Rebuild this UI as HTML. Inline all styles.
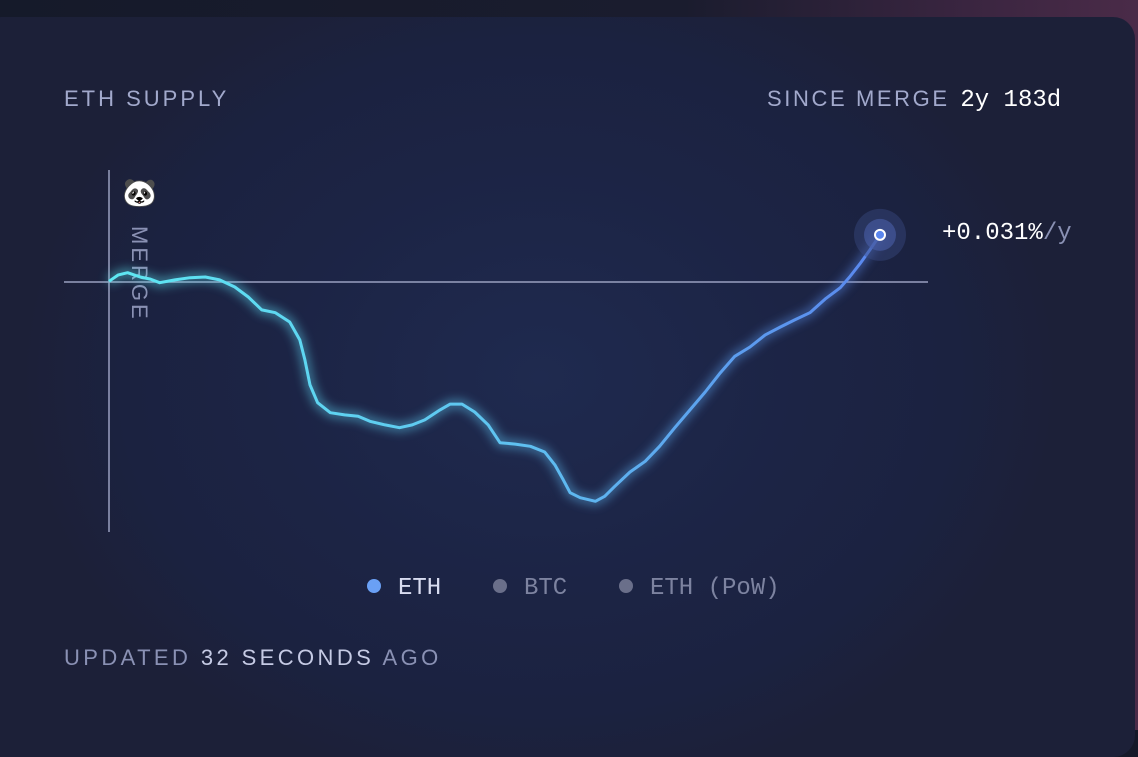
<!DOCTYPE html>
<html><head><meta charset="utf-8"><style>
html,body{margin:0;padding:0;width:1138px;height:730px;overflow:hidden;background:#151929;}
#bg{position:absolute;left:0;top:0;width:1138px;height:730px;background:linear-gradient(90deg,#151a2a 0%,#1a1c2e 60%,#3a2540 85%,#4a2b48 100%);}
#card{position:absolute;left:-20px;top:17px;width:1155px;height:740px;border-radius:22px;background:radial-gradient(ellipse 520px 420px at 560px 360px,#1f2a4f 0%,#1c2445 50%,#1b2240 80%,#1c2038 100%);}
.t{position:absolute;font-family:"Liberation Sans",sans-serif;font-size:22px;letter-spacing:3px;color:#a2a9cc;white-space:nowrap;}
.m{font-family:"Liberation Mono",monospace;letter-spacing:0;font-size:24px;}
svg{position:absolute;left:0;top:0;}
</style></head><body>
<div id="bg"></div>
<div id="card"></div>
<div class="t" style="left:64px;top:86px">ETH SUPPLY</div>
<div class="t" style="left:767px;top:86px;letter-spacing:2.6px">SINCE MERGE <span class="m" style="color:#fff;margin-left:2px">2y 183d</span></div>
<div class="t m" style="left:942px;top:220px;color:#fff;">+0.031%<span style="color:#8a91b4">/y</span></div>
<div class="t" style="left:122px;top:176px;font-size:28px;letter-spacing:0">🐼</div>
<div class="t" style="left:126px;top:226px;writing-mode:vertical-rl;color:#8a91b4;letter-spacing:3px">MERGE</div>
<svg id="chart" width="1138" height="730">
<defs>
<linearGradient id="lg" x1="109" y1="0" x2="880" y2="0" gradientUnits="userSpaceOnUse">
<stop offset="0" stop-color="#5ee8f2"/><stop offset="0.5" stop-color="#5fc4f0"/><stop offset="1" stop-color="#5a86ee"/></linearGradient>
<filter id="glow" x="-10%" y="-30%" width="120%" height="160%"><feGaussianBlur stdDeviation="5"/></filter>
</defs>
<line x1="64" y1="282" x2="928" y2="282" stroke="#9aa0c0" stroke-width="1.5"/>
<line x1="109" y1="170" x2="109" y2="532" stroke="#9aa0c0" stroke-width="1.5"/>
<g id="series"></g>
</svg>
<svg width="1138" height="730">
<circle cx="374" cy="586" r="7" fill="#6aa0f5"/>
<text x="398" y="594" font-family="Liberation Mono,monospace" font-size="24" fill="#d8dcf0">ETH</text>
<circle cx="500" cy="586" r="7" fill="#6a6f8a"/>
<text x="524" y="594" font-family="Liberation Mono,monospace" font-size="24" fill="#7d83a0">BTC</text>
<circle cx="626" cy="586" r="7" fill="#6a6f8a"/>
<text x="650" y="594" font-family="Liberation Mono,monospace" font-size="24" fill="#7d83a0">ETH (PoW)</text>
</svg>
<div class="t" style="left:64px;top:645px;color:#8a91b4;letter-spacing:3.4px">UPDATED <span style="color:#c5cae4">32 SECONDS</span> AGO</div>
<script>
const days=[0,11,22,37,49,60,78,96,114,131,149,165,181,197,214,226,232,238,247,262,279,295,309,327,344,359,374,392,404,418,433,449,463,481,499,516,528,538,546,558,576,587,599,617,635,652,670,688,706,724,741,759,777,795,812,830,848,866,877,889,901,913];
const supplyK=[1,10,13,7,4,-1,3,6,7,3,-7,-21,-39,-43,-56,-81,-109,-144,-169,-183,-186,-188,-195,-200,-204,-200,-193,-179,-171,-171,-182,-200,-225,-227,-230,-238,-256,-277,-295,-302,-307,-300,-286,-266,-251,-230,-204,-179,-154,-127,-104,-91,-74,-63,-53,-43,-24,-8,7,25,45,66];
const xMax=913;
function xs(d){return 109+(d/xMax)*(880-109);}
function ys(v){return 282-(v/1.4);}
const n=Math.min(days.length,supplyK.length);
let d='';
for(let i=0;i<n;i++){d+=(i?'L':'M')+xs(days[i]).toFixed(1)+','+ys(supplyK[i]).toFixed(1);}
const g=document.getElementById('series');
const NS='http://www.w3.org/2000/svg';
const glow=document.createElementNS(NS,'path');


glow.setAttribute('d',d);glow.setAttribute('fill','none');glow.setAttribute('stroke','url(#lg)');glow.setAttribute('stroke-width','8');glow.setAttribute('opacity','0.55');glow.setAttribute('filter','url(#glow)');
g.appendChild(glow);
const line=document.createElementNS(NS,'path');


line.setAttribute('d',d);line.setAttribute('fill','none');line.setAttribute('stroke','url(#lg)');line.setAttribute('stroke-width','3');line.setAttribute('stroke-linejoin','round');
g.appendChild(line);
const ex=xs(days[n-1]), ey=ys(supplyK[n-1]);
[[26,'#3a4a80',0.45],[16,'#4a5fa8',0.6]].forEach(function(c){
  const h=document.createElementNS(NS,'circle');
  
  
  h.setAttribute('cx',ex);h.setAttribute('cy',ey);h.setAttribute('r',c[0]);h.setAttribute('fill',c[1]);h.setAttribute('opacity',c[2]);
  g.appendChild(h);
});
const dot=document.createElementNS(NS,'circle');


dot.setAttribute('cx',ex);dot.setAttribute('cy',ey);dot.setAttribute('r','5');dot.setAttribute('fill','#5a86ee');dot.setAttribute('stroke','#fff');dot.setAttribute('stroke-width','2');
g.appendChild(dot);
</script>
</body></html>
